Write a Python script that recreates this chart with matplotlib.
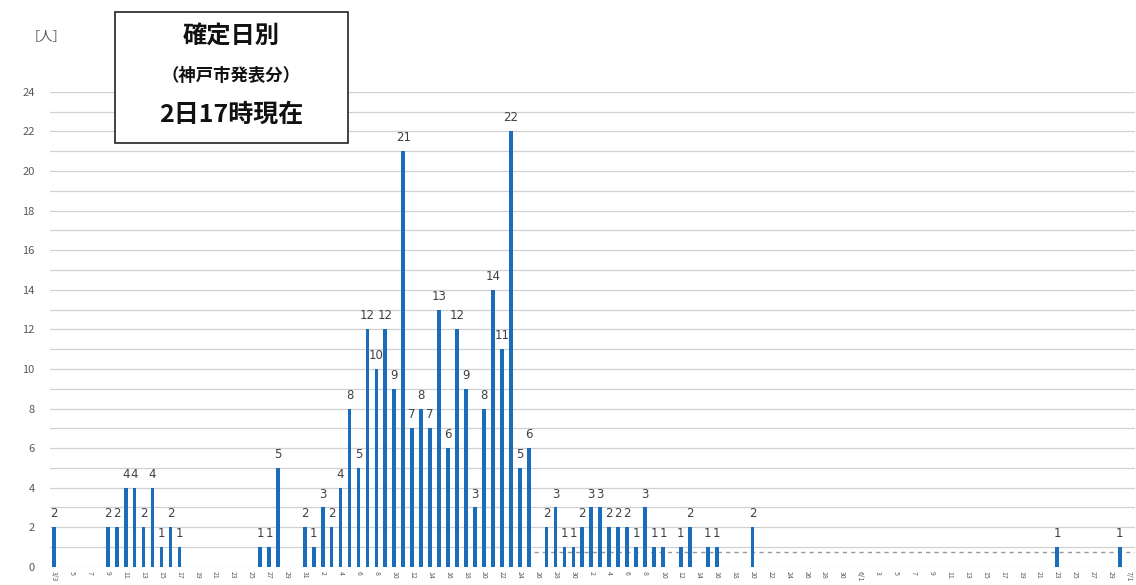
import matplotlib
matplotlib.use("Agg")
import matplotlib.pyplot as plt
from matplotlib.patches import Rectangle
import pandas as pd

plt.rcParams['font.family'] = ['Noto Sans CJK JP', 'DejaVu Sans']

# ---- data ----
year = 2020
axis_start = "3/3"
axis_end = "7/1"
dates = ["3/3", "3/9", "3/10", "3/11", "3/12", "3/13", "3/14", "3/15", "3/16", "3/17",
         "3/26", "3/27", "3/28", "3/31", "4/1", "4/2", "4/3", "4/4", "4/5", "4/6",
         "4/7", "4/8", "4/9", "4/10", "4/11", "4/12", "4/13", "4/14", "4/15", "4/16",
         "4/17", "4/18", "4/19", "4/20", "4/21", "4/22", "4/23", "4/24", "4/25",
         "4/27", "4/28", "4/29", "4/30", "5/1", "5/2", "5/3", "5/4", "5/5", "5/6",
         "5/7", "5/8", "5/9", "5/10", "5/12", "5/13", "5/15", "5/16", "5/20",
         "6/23", "6/30"]
counts = [2, 2, 2, 4, 4, 2, 4, 1, 2, 1,
          1, 1, 5, 2, 1, 3, 2, 4, 8, 5,
          12, 10, 12, 9, 21, 7, 8, 7, 13, 6,
          12, 9, 3, 8, 14, 11, 22, 5, 6,
          2, 3, 1, 1, 2, 3, 3, 2, 2, 2,
          1, 3, 1, 1, 1, 2, 1, 1, 2,
          1, 1]
ref_start = "4/26"
ref_level = 0.75
y_ticks = [0, 2, 4, 6, 8, 10, 12, 14, 16, 18, 20, 22, 24]
title_lines = ["確定日別", "（神戸市発表分）", "2日17時現在"]
unit_label = "［人］"

# ---- helpers ----
def to_ts(md):
    m, d = md.split("/")
    return pd.Timestamp(year=year, month=int(m), day=int(d))

t0 = to_ts(axis_start)
t_end = to_ts(axis_end)
x = [(to_ts(d) - t0).days for d in dates]
n_days = (t_end - t0).days

fig = plt.figure(figsize=(11.36, 5.85), dpi=100)
ax = fig.add_axes([0.044, 0.031, 0.955, 0.812])

bar_color = "#1A6DBA"
ax.bar(x, counts, width=0.42, color=bar_color, zorder=3)

for xi, v in zip(x, counts):
    ax.annotate(str(v), (xi, v), xytext=(0, 5), textcoords="offset points",
                ha="center", va="bottom", fontsize=8.5, color="#404040",
                family=["DejaVu Sans"], zorder=4)

# dashed reference line
rs = (to_ts(ref_start) - t0).days
ax.plot([rs - 0.4, n_days + 0.7], [ref_level, ref_level], linestyle=(0, (3, 3)),
        color="#999999", linewidth=1.0, zorder=2)

ax.set_xlim(-0.45, n_days + 0.7)
ax.set_ylim(0, 24)

# grid lines each unit
for yv in range(0, 25):
    ax.axhline(yv, color="#d0d0d0", linewidth=0.9, zorder=1)

ax.set_yticks(y_ticks)
ax.set_yticklabels([str(v) for v in y_ticks], fontsize=8, color="#595959")
ax.tick_params(axis="y", length=0, pad=11)

xt = list(range(0, n_days + 1, 2))
labels = []
for i in xt:
    d = t0 + pd.Timedelta(days=i)
    if i == 0 or d.day == 1:
        labels.append(f"{d.month}/{d.day}")
    else:
        labels.append(str(d.day))
ax.set_xticks(xt)
ax.set_xticklabels(labels, rotation=-90, fontsize=5, color="#595959")
ax.tick_params(axis="x", length=0, pad=3)

for s in ax.spines.values():
    s.set_visible(False)

# title box
W, H = 1136, 585
def fx(px):
    return px / W
def fy(py):
    return 1 - py / H

box = Rectangle((fx(115), fy(143)), fx(348) - fx(115), fy(12) - fy(143),
                transform=fig.transFigure, facecolor="white", edgecolor="#222222",
                linewidth=1.2, zorder=10)
fig.patches.append(box)
cx = fx(231)
fig.text(cx, fy(37), title_lines[0], ha="center", va="center", fontsize=17.5,
         fontweight="bold", color="#111111", zorder=11)
fig.text(cx, fy(76), title_lines[1], ha="center", va="center", fontsize=12.5,
         fontweight="bold", color="#111111", zorder=11)
fig.text(cx, fy(115), title_lines[2], ha="center", va="center", fontsize=18,
         fontweight="bold", color="#111111", zorder=11)

fig.text(fx(46), fy(38), unit_label, ha="center", va="center", fontsize=9.5,
         color="#595959")

fig.savefig("out.png", dpi=100)
